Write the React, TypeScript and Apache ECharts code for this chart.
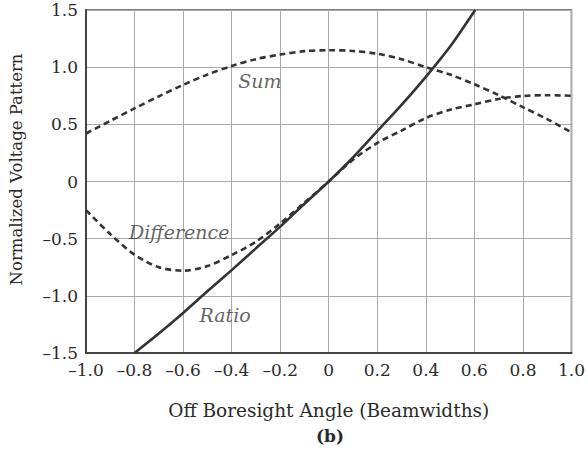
import React, { useEffect, useRef } from "react";
import * as echarts from "echarts";

const angles = [-1.0, -0.9, -0.8, -0.7, -0.6, -0.5, -0.4, -0.3, -0.2, -0.1, 0, 0.1, 0.2, 0.3, 0.4, 0.5, 0.6, 0.7, 0.8, 0.9, 1.0];
const sumValues = [0.42, 0.53, 0.64, 0.745, 0.845, 0.935, 1.01, 1.07, 1.11, 1.14, 1.148, 1.142, 1.117, 1.07, 1.0, 0.935, 0.85, 0.755, 0.65, 0.545, 0.43];
const diffValues = [-0.25, -0.46, -0.64, -0.75, -0.78, -0.74, -0.643, -0.527, -0.366, -0.185, 0, 0.19, 0.337, 0.445, 0.555, 0.628, 0.675, 0.722, 0.748, 0.755, 0.75];
const ratioAngles = [-0.8, -0.7, -0.6, -0.5, -0.4, -0.3, -0.2, -0.1, 0, 0.1, 0.2, 0.3, 0.4, 0.5, 0.6, 0.603];
const ratioValues = [-1.5, -1.33, -1.15, -0.96, -0.775, -0.585, -0.395, -0.195, 0, 0.21, 0.44, 0.67, 0.915, 1.18, 1.49, 1.5];
const annotations = [
  { text: "Sum", x: -0.284, y: 0.88 },
  { text: "Difference", x: -0.616, y: -0.44 },
  { text: "Ratio", x: -0.427, y: -1.168 },
];
const xTicks = { min: -1.0, max: 1.0, interval: 0.2 };
const yTicks = { min: -1.5, max: 1.5, interval: 0.5 };

const SERIF = "DejaVu Serif";
const fmt = (v: number) => {
  if (Math.abs(v) < 1e-9) return "0";
  const s = Math.abs(v).toFixed(1);
  return v < 0 ? "\u2013" + s : s;
};

export default function App() {
  const ref = useRef<HTMLDivElement>(null);
  useEffect(() => {
    if (!ref.current) return;
    const chart = echarts.init(ref.current, null, { renderer: "svg" });
    const dashed = { color: "#333", width: 2.6, type: [6, 4] as number[] };
    chart.setOption({
      animation: false,
      backgroundColor: "#fff",
      grid: {
        left: 86,
        right: 13,
        top: 10,
        bottom: 103,
        show: true,
        borderColor: "#555",
        borderWidth: 1.5,
        backgroundColor: "transparent",
      },
      xAxis: {
        type: "value",
        min: xTicks.min,
        max: xTicks.max,
        interval: xTicks.interval,
        name: "Off Boresight Angle (Beamwidths)",
        nameLocation: "middle",
        nameGap: 48,
        nameTextStyle: { fontFamily: SERIF, fontSize: 18.5, color: "#2a2a2a" },
        axisLine: { show: true, onZero: false, lineStyle: { color: "#444", width: 2 } },
        axisTick: { show: false },
        axisLabel: { formatter: fmt, fontFamily: SERIF, fontSize: 17, color: "#2a2a2a", margin: 8 },
        splitLine: { show: true, lineStyle: { color: "#aaa", width: 1 } },
      },
      yAxis: {
        type: "value",
        min: yTicks.min,
        max: yTicks.max,
        interval: yTicks.interval,
        name: "Normalized Voltage Pattern",
        nameLocation: "middle",
        nameGap: 61,
        nameTextStyle: { fontFamily: SERIF, fontSize: 16.5, color: "#2a2a2a", padding: [0, 0, 0, 24] },
        axisLine: { show: true, onZero: false, lineStyle: { color: "#444", width: 2 } },
        axisTick: { show: false },
        axisLabel: { formatter: fmt, fontFamily: SERIF, fontSize: 17, color: "#2a2a2a", margin: 8 },
        splitLine: { show: true, lineStyle: { color: "#aaa", width: 1 } },
      },
      series: [
        {
          name: "Sum",
          type: "line",
          smooth: 0.3,
          symbol: "none",
          lineStyle: dashed,
          data: angles.map((a, i) => [a, sumValues[i]]),
          z: 3,
        },
        {
          name: "Difference",
          type: "line",
          smooth: 0.3,
          symbol: "none",
          lineStyle: dashed,
          data: angles.map((a, i) => [a, diffValues[i]]),
          z: 3,
        },
        {
          name: "Ratio",
          type: "line",
          smooth: 0.3,
          symbol: "none",
          lineStyle: { color: "#333", width: 2.6 },
          data: ratioAngles.map((a, i) => [a, ratioValues[i]]),
          z: 4,
        },
        {
          name: "labels",
          type: "scatter",
          symbolSize: 0,
          silent: true,
          data: annotations.map((a) => ({ value: [a.x, a.y], name: a.text })),
          label: {
            show: true,
            position: "inside",
            formatter: (p: any) => p.name,
            fontFamily: SERIF,
            fontStyle: "italic",
            fontSize: 19,
            color: "#3a3a3a",
          },
          z: 5,
        },
      ],
      graphic: [
        {
          type: "text",
          left: 316,
          top: 427,
          style: { text: "(b)", font: `bold 17px "${SERIF}"`, fill: "#2a2a2a" },
        },
      ],
    });
    return () => chart.dispose();
  }, []);
  return (
    <div
      ref={ref}
      style={{ position: "fixed", left: 0, top: 0, width: 588, height: 456, background: "#fff" }}
    />
  );
}
